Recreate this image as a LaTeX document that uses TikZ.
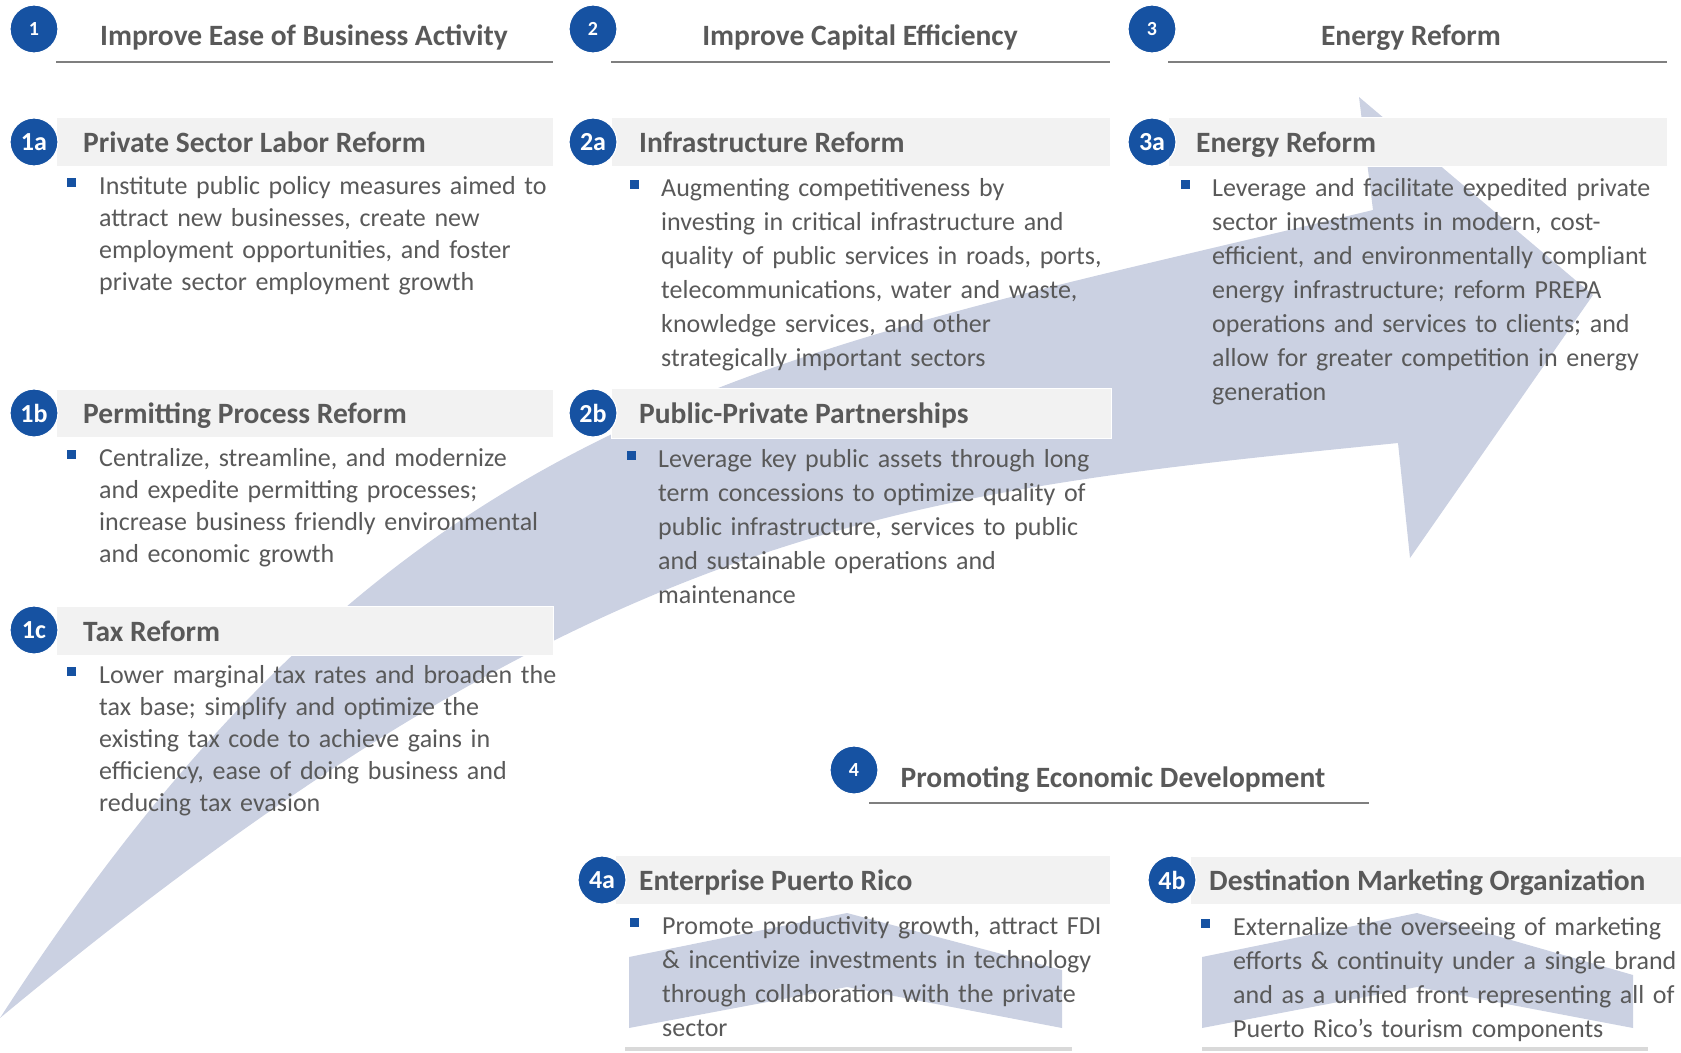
\documentclass[tikz,border=0pt]{standalone}
\usepackage{fontspec}
\setmainfont{Carlito}
\usepackage{tikz}
\definecolor{badgeblue}{RGB}{22,82,162}
\definecolor{bargrey}{RGB}{242,242,242}
\definecolor{textgrey}{RGB}{89,89,89}
\definecolor{rulegrey}{RGB}{127,127,127}
\definecolor{arrowblue}{RGB}{203,209,226}

\begin{document}
\begin{tikzpicture}[x=1pt, y=-1pt,
  badge/.style={circle, fill=badgeblue, draw=white, line width=1.2pt,
                minimum size=48pt, inner sep=0pt, text=white,
                font=\fontsize{26}{26}\selectfont\bfseries},
  smallbadge/.style={badge, font=\fontsize{20}{20}\selectfont\bfseries},
  greybar/.style={fill=bargrey, draw=white, line width=1pt},
  bartitle/.style={anchor=base west, inner sep=0pt, text=textgrey,
                   font=\fontsize{29.5}{29.5}\selectfont\bfseries},
  colhead/.style={anchor=base, inner sep=0pt, text=textgrey,
                  font=\fontsize{29.5}{29.5}\selectfont\bfseries},
  bodytext/.style={anchor=base west, inner sep=0pt, text=textgrey,
                   align=left, text width=520pt,
                   font=\fontsize{26}{34}\selectfont},
  narrowlead/.style={font=\fontsize{26}{32}\selectfont},
  sqbullet/.style={fill=badgeblue, minimum size=9pt, inner sep=0pt},
  headrule/.style={draw=rulegrey, line width=1.3pt},
  footrule/.style={draw=black!15, line width=4pt},
  swoosh/.style={fill=arrowblue}
]
\useasboundingbox (0,0) rectangle (1681,1052);

% big arrow behind everything
\fill[swoosh] (0,1018) .. controls (400,400) and (750,360) .. (1373,210)
  -- (1359,97) -- (1593,295) -- (1410,558) -- (1398,443)
  .. controls (900,493) and (600,520) .. cycle;
% small chevrons
\fill[swoosh] (629,957) -- (847,913) -- (1062,970) -- (1062,1028)
  -- (847,987) -- (629,1028) -- cycle;
\fill[swoosh] (1202,957) -- (1417,913) -- (1633,975) -- (1633,1028)
  -- (1417,987) -- (1202,1028) -- cycle;

% column headers
\draw[headrule] (56,62) -- (553,62);
\draw[headrule] (611,62) -- (1110,62);
\draw[headrule] (1168,62) -- (1667,62);
\draw[headrule] (869,803) -- (1369,803);
\node[smallbadge] (b1) at (34,29) {1};
\node[smallbadge] (b2) at (593,29) {2};
\node[smallbadge] (b3) at (1152,29) {3};
\node[smallbadge] (b4) at (854,770) {4};
\node[colhead] (h1) at (304,45) {Improve Ease of Business Activity};
\node[colhead] (h2) at (860,45) {Improve Capital Efficiency};
\node[colhead] (h3) at (1411,45) {Energy Reform};
\node[colhead] (h4) at (1113,787) {Promoting Economic Development};

% grey bars
\path[greybar] (56,117) rectangle (553,166);
\path[greybar] (56,389) rectangle (553,437);
\path[greybar] (56,606) rectangle (553,655);
\path[greybar] (611,117) rectangle (1110,166);
\path[greybar] (611,388) rectangle (1111,438);
\path[greybar] (1168,117) rectangle (1667,166);
\path[greybar] (615,855) rectangle (1110,904);
\path[greybar] (1190,856) rectangle (1681,904);
\draw[footrule] (625,1049) -- (1072,1049);
\draw[footrule] (1202,1049) -- (1648,1049);

% badges
\node[badge] (b1a) at (34,142) {1a};
\node[badge] (b1b) at (34,413) {1b};
\node[badge] (b1c) at (34,630) {1c};
\node[badge] (b2a) at (593,142) {2a};
\node[badge] (b2b) at (593,413) {2b};
\node[badge] (b3a) at (1152,142) {3a};
\node[badge] (b4a) at (602,880) {4a};
\node[badge] (b4b) at (1172,880) {4b};

% titles
\node[bartitle] (t1a) at (83,152) {Private Sector Labor Reform};
\node[bartitle] (t1b) at (83,423) {Permitting Process Reform};
\node[bartitle] (t1c) at (83,641) {Tax Reform};
\node[bartitle] (t2a) at (639,152) {Infrastructure Reform};
\node[bartitle] (t2b) at (639,423) {Public-Private Partnerships};
\node[bartitle] (t3a) at (1196,152) {Energy Reform};
\node[bartitle] (t4a) at (639,890) {Enterprise Puerto Rico};
\node[bartitle] (t4b) at (1209,890) {Destination Marketing Organization};

% bullets
\node[sqbullet] (q1a) at (71,182) {};
\node[sqbullet] (q1b) at (71,454) {};
\node[sqbullet] (q1c) at (71,671) {};
\node[sqbullet] (q2a) at (634,184) {};
\node[sqbullet] (q2b) at (631,455) {};
\node[sqbullet] (q3a) at (1185,184) {};
\node[sqbullet] (q4a) at (634,922) {};
\node[sqbullet] (q4b) at (1205,923) {};

% body texts
\node[bodytext, narrowlead] (x1a) at (99,194) {Institute public policy measures aimed to\\
  attract new businesses, create new\\
  employment opportunities, and foster\\
  private sector employment growth};
\node[bodytext, narrowlead] (x1b) at (99,466) {Centralize, streamline, and modernize\\
  and expedite permitting processes;\\
  increase business friendly environmental\\
  and economic growth};
\node[bodytext, narrowlead] (x1c) at (99,683) {Lower marginal tax rates and broaden the\\
  tax base; simplify and optimize the\\
  existing tax code to achieve gains in\\
  efficiency, ease of doing business and\\
  reducing tax evasion};
\node[bodytext] (x2a) at (661,196) {Augmenting competitiveness by\\
  investing in critical infrastructure and\\
  quality of public services in roads, ports,\\
  telecommunications, water and waste,\\
  knowledge services, and other\\
  strategically important sectors};
\node[bodytext] (x2b) at (658,467) {Leverage key public assets through long\\
  term concessions to optimize quality of\\
  public infrastructure, services to public\\
  and sustainable operations and\\
  maintenance};
\node[bodytext] (x3a) at (1212,196) {Leverage and facilitate expedited private\\
  sector investments in modern, cost-\\
  efficient, and environmentally compliant\\
  energy infrastructure; reform PREPA\\
  operations and services to clients; and\\
  allow for greater competition in energy\\
  generation};
\node[bodytext] (x4a) at (662,934) {Promote productivity growth, attract FDI\\
  \& incentivize investments in technology\\
  through collaboration with the private\\
  sector};
\node[bodytext] (x4b) at (1233,935) {Externalize the overseeing of marketing\\
  efforts \& continuity under a single brand\\
  and as a unified front representing all of\\
  Puerto Rico’s tourism components};
\end{tikzpicture}
\end{document}
